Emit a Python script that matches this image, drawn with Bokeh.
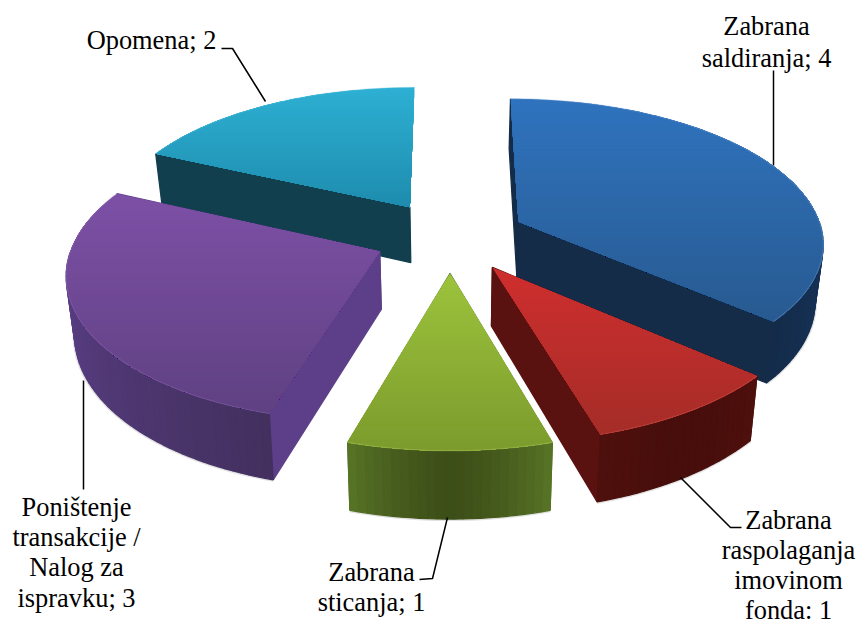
import numpy as np
from bokeh.plotting import figure
from bokeh.embed import file_html
from bokeh.resources import INLINE
from bokeh.core.properties import value

# ---- chart data (clockwise from 12 o'clock) ----
names = ["Zabrana saldiranja", "Zabrana raspolaganja imovinom fonda", "Zabrana sticanja",
         "Poništenje transakcije / Nalog za ispravku", "Opomena"]
values = [4, 1, 1, 3, 2]
label_lines = [["Zabrana", "saldiranja; 4"],
               ["Zabrana", "raspolaganja", "imovinom", "fonda: 1"],
               ["Zabrana", "sticanja; 1"],
               ["Poništenje", "transakcije /", "Nalog za", "ispravku; 3"],
               ["Opomena; 2"]]

# ---- styling ----
top_hi = ["#2f73be", "#cf2e2e", "#9cc33c", "#7d50a6", "#2db0d3"]
top_lo = ["#285a90", "#a52d28", "#7c9b2d", "#5f4182", "#1e8cae"]
wall_edge = ["#17335a", "#4f100d", "#587526", "#5c4088", "#14485a"]
wall_mid = ["#142c4a", "#470e0b", "#3d4f18", "#43305f", "#123f4e"]
face_col = ["#152c48", "#5a1210", "#587526", "#5c3f88", "#123f4e"]
rim_col = ["#6f9ad0", "#d0605a", "#b4d060", "#8e6cb4", "#60c4de"]
skip_face = [None, None, None, None, "end"]
draw_order = [4, 0, 3, 1, 2]
label_pos = [(766, [25, 57]), (788, [519, 549, 579, 609]), (371, [571, 601]),
             (76, [506, 536, 566, 597]), (151, [39])]
leader_x = [[773, 773], [680, 730, 741], [447, 432, 419], [83, 83], [221, 232, 265]]
leader_y = [[70, 165], [477, 527, 527], [517, 578, 579], [380, 489], [48, 48, 101]]

# ---- projection of the exploded pie ----
CX, CY, RX, RY, K, EXPL, DEPTH, SHRINK = 449.5, 236.0, 305.0, 143.0, 0.1325, 0.25, 57.0, 0.978


def proj(X, Y, low=False):
    X, Y = np.asarray(X, float), np.asarray(Y, float)
    s = 1 / (1 - K * Y)
    x = RX * X * s
    y = RY * Y * s
    if low:
        return CX + x * SHRINK, CY + y + DEPTH * s
    return CX + x, CY + y


def hex2rgb(h):
    return np.array([int(h[i:i + 2], 16) for i in (1, 3, 5)], float)


def mix(a, b, t):
    c = hex2rgb(a) * (1 - t) + hex2rgb(b) * t
    return "#%02x%02x%02x" % tuple(int(round(v)) for v in c)


def clip_band(px, py, y0, y1):
    pts = list(zip(px, py))
    for bound, keep_below in ((y0, False), (y1, True)):
        out = []
        for i in range(len(pts)):
            a, b = pts[i], pts[(i + 1) % len(pts)]
            ia = (a[1] <= bound) if keep_below else (a[1] >= bound)
            ib = (b[1] <= bound) if keep_below else (b[1] >= bound)
            if ia:
                out.append(a)
            if ia != ib:
                t = (bound - a[1]) / (b[1] - a[1])
                out.append((a[0] + t * (b[0] - a[0]), bound))
        pts = out
        if not pts:
            return None
    return pts


p = figure(width=859, height=619, x_range=(0, 859), y_range=(619, 0),
           output_backend="svg", toolbar_location=None, min_border=0)
p.axis.visible = False
p.grid.visible = False
p.outline_line_color = None

total = sum(values)
edges = np.concatenate([[0], np.cumsum(values)]) / total * 2 * np.pi

for i in draw_order:
    a0, a1 = edges[i], edges[i + 1]
    mid = (a0 + a1) / 2
    ox, oy = EXPL * np.sin(mid), -EXPL * np.cos(mid)
    th = np.linspace(a0, a1, max(24, int((a1 - a0) * 40)))
    gx = ox + np.sin(th)
    gy = oy - np.cos(th)
    sec_x = np.concatenate([[ox], gx])
    sec_y = np.concatenate([[oy], gy])
    tx, ty = proj(sec_x, sec_y)
    bx, by = proj(sec_x, sec_y, low=True)

    # soft shadow below the front walls only
    front = np.cos(th) <= 0
    if front.any():
        p.line(list(bx[1:][front]), list(by[1:][front]), line_color="#777777", line_alpha=0.22, line_width=4)

    # walls, farthest first, each strip reaching over the next one; back-facing arc strips are skipped
    walls = []
    n = len(sec_x)
    for j in range(n):
        k = (j + 1) % n
        if k == 0 and skip_face[i] == "end":
            continue
        if j == 0 or k == 0:
            col = face_col[i]
        else:
            if np.cos((th[j - 1] + th[k - 1]) / 2) > 0:
                continue
            u = (j - 0.5) / (n - 2)
            if i == 3:
                t = min(1.0, u / 0.7)
            elif i == 0:
                t = min(1.0, (1 - u) / 0.25)
            else:
                t = abs(2 * u - 1) ** 1.5
            col = mix(wall_mid[i], wall_edge[i], t)
        walls.append(((sec_y[j] + sec_y[k]) / 2,
                      [tx[j], tx[k], bx[k], bx[j]], [ty[j], ty[k], by[k], by[j]], col))
    walls.sort(key=lambda w: w[0])
    p.patches([w[1] for w in walls], [w[2] for w in walls],
              fill_color=[w[3] for w in walls], line_color=[w[3] for w in walls], line_width=1.3)

    # top face as a vertical colour ramp; bands overlap the next one
    ymin, ymax = ty.min(), ty.max()
    nb = int((ymax - ymin) / 3) + 1
    ys = np.linspace(ymin, ymax, nb + 1)
    xs_b, ys_b, cols = [], [], []
    for b in range(nb):
        poly = clip_band(tx, ty, ys[b], ymax)
        if poly and len(poly) >= 3:
            xs_b.append([q[0] for q in poly])
            ys_b.append([q[1] for q in poly])
            cols.append(mix(top_hi[i], top_lo[i], (b + 0.5) / nb))
    p.patches(xs_b, ys_b, fill_color=cols, line_color=None)

    # rim of the top face
    p.line(list(tx[1:]), list(ty[1:]), line_color=rim_col[i], line_alpha=0.35, line_width=1.2)

# leader lines
p.multi_line(leader_x, leader_y, line_color="#000000", line_width=1.5)

# labels
for lines, (lx, lys) in zip(label_lines, label_pos):
    p.text([lx] * len(lines), lys, text=lines, text_font=value("Liberation Serif"),
           text_font_size="26.4px", text_color="#000000", text_align="center", text_baseline="middle")

open("out.html", "w").write(file_html(p, INLINE))
